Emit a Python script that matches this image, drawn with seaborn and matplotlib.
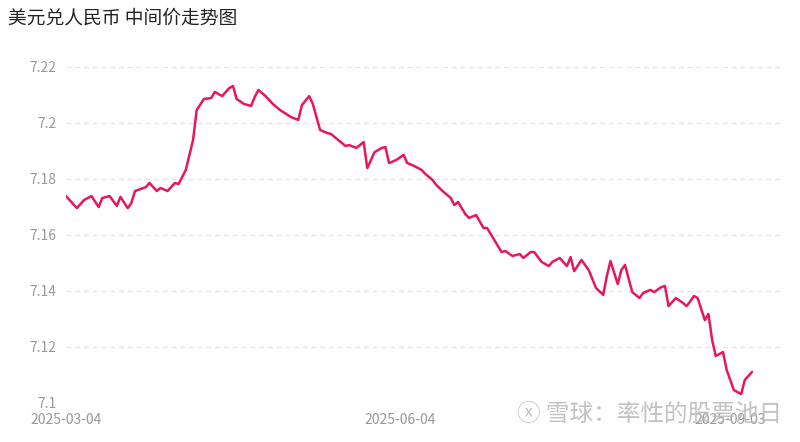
import matplotlib
matplotlib.use("Agg")
import matplotlib.pyplot as plt
import seaborn as sns
import pandas as pd
import numpy as np

sns.set_theme(style="white")
plt.rcParams['font.family'] = ['Noto Sans CJK SC', 'DejaVu Sans']

title = "美元兑人民币 中间价走势图"
start = "2025-03-04"
day_offsets = [0,3,5,7,9,10,12,14,15,17,18,19,22,23,25,26,28,30,31,33,35,36,38,40,41,43,45,46,47,49,51,52,53,55,57,59,62,64,65,67,68,70,72,73,75,77,78,80,82,83,85,87,88,89,91,93,94,96,98,99,101,102,104,106,107,108,110,111,113,115,116,118,120,121,123,125,126,128,129,131,133,134,136,138,139,140,142,143,144,146,148,149,150,152,153,154,156,158,159,161,162,164,165,166,168,170,171,173,174,176,177,178,179,181,182,184,186,187,189]
rates = [7.1739,7.1696,7.1725,7.1739,7.1700,7.1732,7.1739,7.1704,7.1736,7.1696,7.1714,7.1757,7.1771,7.1786,7.1757,7.1768,7.1757,7.1786,7.1782,7.1832,7.1939,7.2046,7.2086,7.2089,7.2111,7.2096,7.2125,7.2132,7.2086,7.2068,7.2061,7.2093,7.2118,7.2096,7.2068,7.2046,7.2021,7.2011,7.2064,7.2096,7.2068,7.1975,7.1964,7.1961,7.1939,7.1918,7.1921,7.1911,7.1932,7.1839,7.1896,7.1911,7.1914,7.1857,7.1868,7.1886,7.1857,7.1846,7.1832,7.1818,7.1796,7.1779,7.1754,7.1732,7.1707,7.1718,7.1675,7.1661,7.1671,7.1625,7.1625,7.1582,7.1539,7.1543,7.1525,7.1532,7.1518,7.1539,7.1539,7.1504,7.1489,7.1504,7.1518,7.1489,7.1521,7.1471,7.1511,7.1493,7.1475,7.1411,7.1386,7.1454,7.1507,7.1425,7.1475,7.1493,7.1396,7.1375,7.1393,7.1404,7.1396,7.1414,7.1418,7.1346,7.1375,7.1357,7.1346,7.1382,7.1375,7.1296,7.1318,7.1225,7.1168,7.1182,7.1118,7.1046,7.1032,7.1082,7.1111]
n = min(len(day_offsets), len(rates))
x_ticks = ["2025-03-04", "2025-06-04", "2025-09-03"]
y_ticks = [7.1, 7.12, 7.14, 7.16, 7.18, 7.2, 7.22]
y_labels = ["7.1", "7.12", "7.14", "7.16", "7.18", "7.2", "7.22"]

df = pd.DataFrame({"date": pd.Timestamp(start) + pd.to_timedelta(day_offsets[:n], unit="D"),
                   "rate": rates[:n]})

fig = plt.figure(figsize=(8, 4.42), dpi=100)
ax = fig.add_axes([66/800, 1-403/442, (780-66)/800, (403-67)/442])
sns.lineplot(data=df, x="date", y="rate", ax=ax, color="#e8175d", linewidth=1.8)
ax.set_ylim(7.1, 7.22)
ax.set_xlim(pd.Timestamp(start), pd.Timestamp(start) + pd.Timedelta(days=196.7))
ax.set_yticks(y_ticks)
ax.set_yticklabels(y_labels)
ax.set_xticks(pd.to_datetime(x_ticks))
ax.set_xticklabels(x_ticks)
ax.tick_params(colors="#999999", labelsize=10, length=0, pad=7)
ax.grid(axis="y", color="#e3e3e3", linestyle=(0, (4, 3)), linewidth=0.9)
ax.grid(axis="x", visible=False)
for s in ax.spines.values():
    s.set_visible(False)
ax.set_xlabel("")
ax.set_ylabel("")
fig.text(8/800, 1-18/442, title, fontsize=13.5, color="#222222", va="center", ha="left")
fig.text(517/800, 1-414/442, "ⓧ 雪球：率性的股票池日", fontsize=17, color="#b8b8b8",
         alpha=0.85, va="center", ha="left")
fig.savefig("out.png", dpi=100, facecolor="white")
